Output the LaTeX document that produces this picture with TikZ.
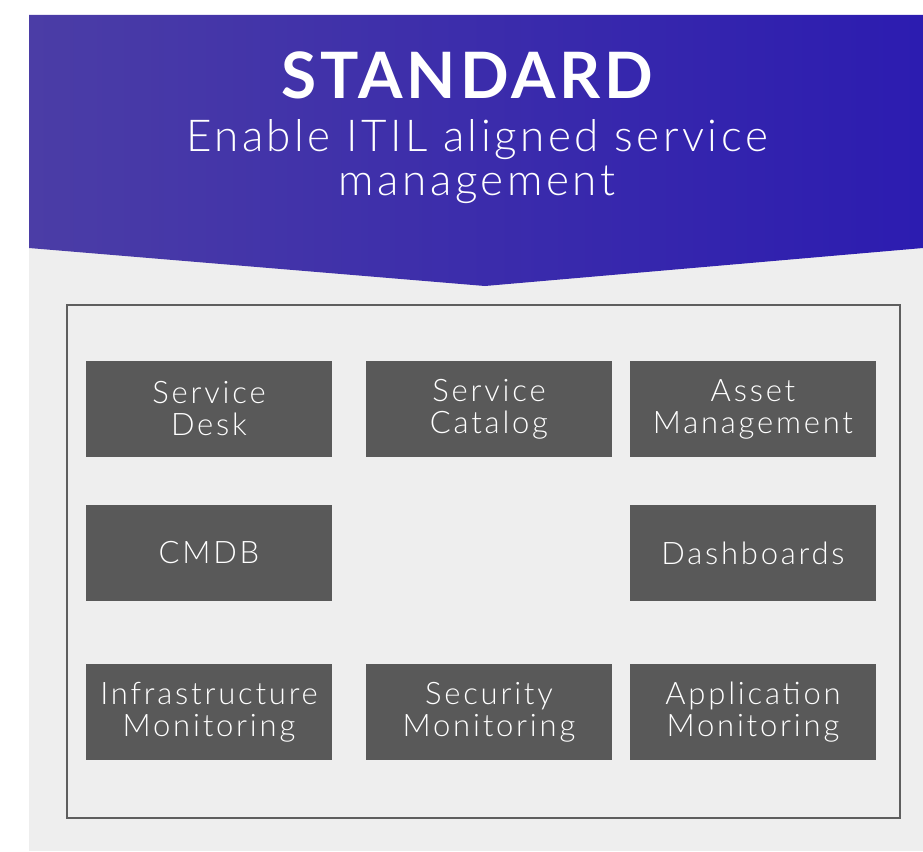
\documentclass[tikz,border=0pt]{standalone}
\usepackage{fontspec}
\setmainfont{Lato}
\newfontfamily\lightfont[LetterSpace=9]{Lato Light}
\newfontfamily\sublightfont[LetterSpace=8]{Lato Light}
\newfontfamily\boldfont[LetterSpace=6]{Lato Bold}
\definecolor{panel}{HTML}{EEEEEE}
\definecolor{boxgray}{HTML}{595959}
\definecolor{frame}{HTML}{5E5E5E}
\definecolor{purpA}{HTML}{4B3DA6}
\definecolor{purpB}{HTML}{2C1CB0}
\begin{document}
\begin{tikzpicture}[x=1pt,y=-1pt,
  tile/.style={fill=boxgray, draw=none, minimum width=246pt, minimum height=96pt,
    inner sep=0pt, text=white, align=center, font=\lightfont\fontsize{31}{32}\selectfont}]
\useasboundingbox (0,0) rectangle (923,851);
\fill[white] (0,0) rectangle (923,851);
\fill[panel] (29,15) rectangle (923,851);
\shade[left color=purpA, right color=purpB] (29,15) -- (923,15) -- (923,248) -- (485,286) -- (29,248) -- cycle;
\node[text=white, font=\boldfont\fontsize{64}{64}\selectfont, anchor=base] (title) at (467.5,98) {STANDARD};
\node[text=white, font=\sublightfont\fontsize{44}{44}\selectfont, align=center, anchor=north] (sub) at (477,116) {Enable ITIL aligned service\\management};
\node[draw=frame, line width=2pt, minimum width=833pt, minimum height=513pt, inner sep=0pt] (frame) at (483.5,561.5) {};
\node[tile] (sd) at (209,409) {Service\\Desk};
\node[tile] (sc) at (489,409) {Service\\Catalog};
\node[tile] (am) at (753,409) {Asset\\Management};
\node[tile] (cmdb) at (209,553) {CMDB};
\node[tile] (dash) at (753,553) {Dashboards};
\node[tile] (im) at (209,712) {Infrastructure\\Monitoring};
\node[tile] (sm) at (489,712) {Security\\Monitoring};
\node[tile] (apm) at (753,712) {Application\\Monitoring};
\end{tikzpicture}
\end{document}
